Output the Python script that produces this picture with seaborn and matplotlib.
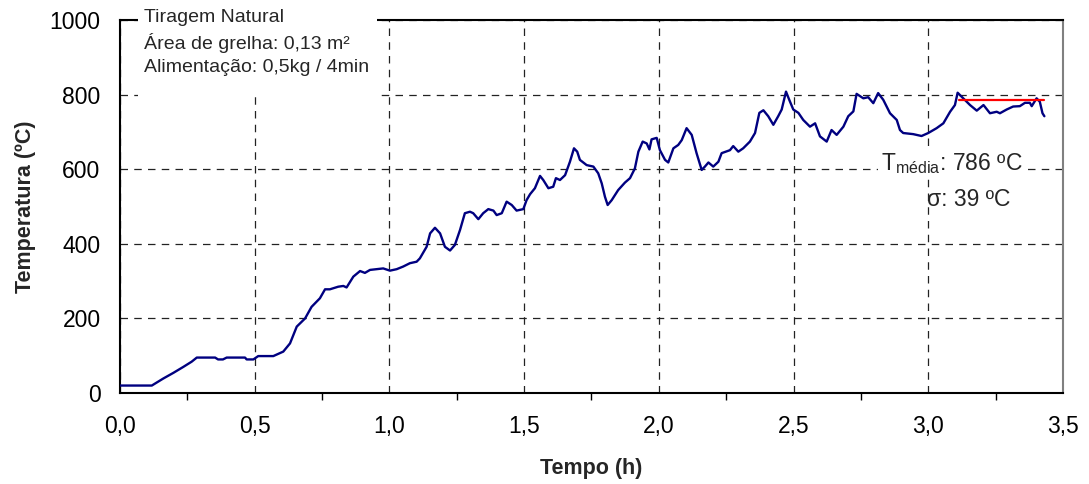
import matplotlib
matplotlib.use("Agg")
import matplotlib.pyplot as plt
from matplotlib.patches import Rectangle
from matplotlib.ticker import MultipleLocator, FuncFormatter
import numpy as np
import pandas as pd
import seaborn as sns

# Furnace temperature record (time in hours, temperature in ºC)
tempo_h = [
    0.000, 0.118, 0.161, 0.198, 0.235, 0.266, 0.285, 0.353, 0.364, 0.382,
    0.396, 0.464, 0.470, 0.495, 0.513, 0.569, 0.606, 0.631, 0.656, 0.687,
    0.711, 0.742, 0.761, 0.779, 0.810, 0.829, 0.841, 0.866, 0.891, 0.909,
    0.928, 0.977, 1.002, 1.027, 1.051, 1.076, 1.101, 1.113, 1.138, 1.151,
    1.169, 1.188, 1.206, 1.225, 1.243, 1.262, 1.280, 1.299, 1.311, 1.330,
    1.348, 1.367, 1.386, 1.398, 1.417, 1.435, 1.454, 1.472, 1.497, 1.509,
    1.522, 1.540, 1.559, 1.571, 1.590, 1.608, 1.618, 1.633, 1.652, 1.670,
    1.685, 1.697, 1.707, 1.732, 1.757, 1.775, 1.788, 1.800, 1.810, 1.825,
    1.849, 1.874, 1.893, 1.911, 1.924, 1.940, 1.955, 1.965, 1.973, 1.992,
    2.004, 2.023, 2.035, 2.054, 2.072, 2.085, 2.103, 2.122, 2.140, 2.159,
    2.171, 2.184, 2.202, 2.221, 2.233, 2.264, 2.276, 2.295, 2.313, 2.338,
    2.357, 2.373, 2.388, 2.406, 2.425, 2.443, 2.456, 2.472, 2.484, 2.499,
    2.518, 2.536, 2.561, 2.580, 2.598, 2.623, 2.641, 2.660, 2.685, 2.703,
    2.722, 2.734, 2.759, 2.777, 2.796, 2.814, 2.833, 2.858, 2.883, 2.895,
    2.907, 2.944, 2.975, 3.000, 3.031, 3.056, 3.081, 3.099, 3.109, 3.130,
    3.155, 3.180, 3.205, 3.229, 3.254, 3.266, 3.291, 3.315, 3.340, 3.359,
    3.377, 3.384, 3.402, 3.414, 3.424, 3.431,
]
temperatura_c = [
    20, 20, 39, 54, 70, 84, 95, 95, 90, 90,
    95, 95, 90, 90, 99, 99, 111, 133, 178, 200,
    231, 254, 278, 278, 285, 287, 283, 312, 327, 322,
    330, 334, 328, 332, 339, 348, 352, 361, 392, 428,
    443, 428, 392, 382, 397, 437, 482, 486, 482, 466,
    482, 493, 489, 477, 482, 513, 504, 489, 493, 517,
    533, 549, 582, 571, 549, 553, 576, 571, 584, 620,
    656, 647, 625, 611, 607, 589, 562, 526, 504, 517,
    544, 564, 576, 602, 647, 674, 669, 653, 680, 684,
    651, 625, 618, 656, 665, 678, 710, 692, 643, 598,
    607, 618, 607, 620, 643, 651, 662, 647, 656, 674,
    697, 751, 758, 742, 719, 742, 760, 808, 786, 760,
    751, 732, 714, 723, 688, 674, 705, 692, 714, 742,
    755, 802, 790, 793, 777, 804, 786, 750, 732, 705,
    697, 694, 689, 697, 710, 723, 754, 772, 805, 790,
    772, 757, 772, 750, 754, 750, 760, 768, 769, 778,
    778, 769, 790, 781, 750, 742,
]

# Averaging window and statistics of the final period
periodo_media_h = [3.115, 3.43]
t_media = 786
desvio = 39

info_lines = [
    "Tiragem Natural",
    "Área de grelha: 0,13 m²",
    "Alimentação: 0,5kg / 4min",
]

df = pd.DataFrame({"Tempo (h)": tempo_h, "Temperatura (ºC)": temperatura_c})
df_media = pd.DataFrame({"Tempo (h)": periodo_media_h,
                         "Temperatura (ºC)": [t_media] * len(periodo_media_h)})

sns.set_style("white")
plt.rcParams["font.family"] = ["Liberation Sans", "DejaVu Sans"]

fig = plt.figure(figsize=(10.89, 4.84), dpi=100)
ax = fig.add_axes([0.1102, 0.188, 0.8659, 0.7707])

sns.lineplot(data=df, x="Tempo (h)", y="Temperatura (ºC)", ax=ax,
             color="#000080", linewidth=1.7, zorder=3)
sns.lineplot(data=df_media, x="Tempo (h)", y="Temperatura (ºC)", ax=ax,
             color="#ff0000", linewidth=1.6, zorder=4)

ax.set_xlim(0, 3.5)
ax.set_ylim(0, 1000)
ax.xaxis.set_major_locator(MultipleLocator(0.5))
ax.xaxis.set_minor_locator(MultipleLocator(0.25))
ax.yaxis.set_major_locator(MultipleLocator(200))
ax.xaxis.set_major_formatter(FuncFormatter(lambda v, p: f"{v:.1f}".replace(".", ",")))
ax.yaxis.set_major_formatter(FuncFormatter(lambda v, p: f"{v:.0f}"))

ax.grid(True, which="major", color="#222222", linestyle=(0, (6, 5)), linewidth=0.9)
ax.set_axisbelow(True)

for side in ("left", "bottom", "top"):
    ax.spines[side].set_color("black")
    ax.spines[side].set_linewidth(1.5)
ax.spines["right"].set_color("#808080")
ax.spines["right"].set_linewidth(1.5)

ax.tick_params(axis="both", which="major", direction="out", length=6, width=1,
               color="black", labelsize=16.5, labelcolor="black")
ax.tick_params(axis="x", which="major", pad=10)
ax.tick_params(axis="y", which="major", pad=8)
ax.tick_params(axis="x", which="minor", direction="out", length=5, width=1,
               color="black", bottom=True)

ax.set_xlabel("Tempo (h)", fontsize=15.5, fontweight="bold", labelpad=14)
ax.set_ylabel("Temperatura (ºC)", fontsize=15.5, fontweight="bold", labelpad=10)

# White panel behind the test-conditions note
ax.add_patch(Rectangle((0.019, 0.794), 0.254, 0.27, transform=ax.transAxes,
                       facecolor="white", edgecolor="none", zorder=4,
                       clip_on=False))
ax.text(0.025, 1.03, "\n".join(info_lines), transform=ax.transAxes,
        ha="left", va="top", fontsize=14, linespacing=1.45, zorder=5)

ax.text(0.882, 0.615, "T$_{\\mathregular{média}}$: " + f"{t_media} ºC",
        transform=ax.transAxes, ha="center", va="center", fontsize=16.5, zorder=5,
        bbox=dict(facecolor="white", edgecolor="none", pad=2))
ax.text(0.900, 0.52, f"σ: {desvio} ºC", transform=ax.transAxes,
        ha="center", va="center", fontsize=16.5, zorder=5)

fig.savefig("out.png", dpi=100)
